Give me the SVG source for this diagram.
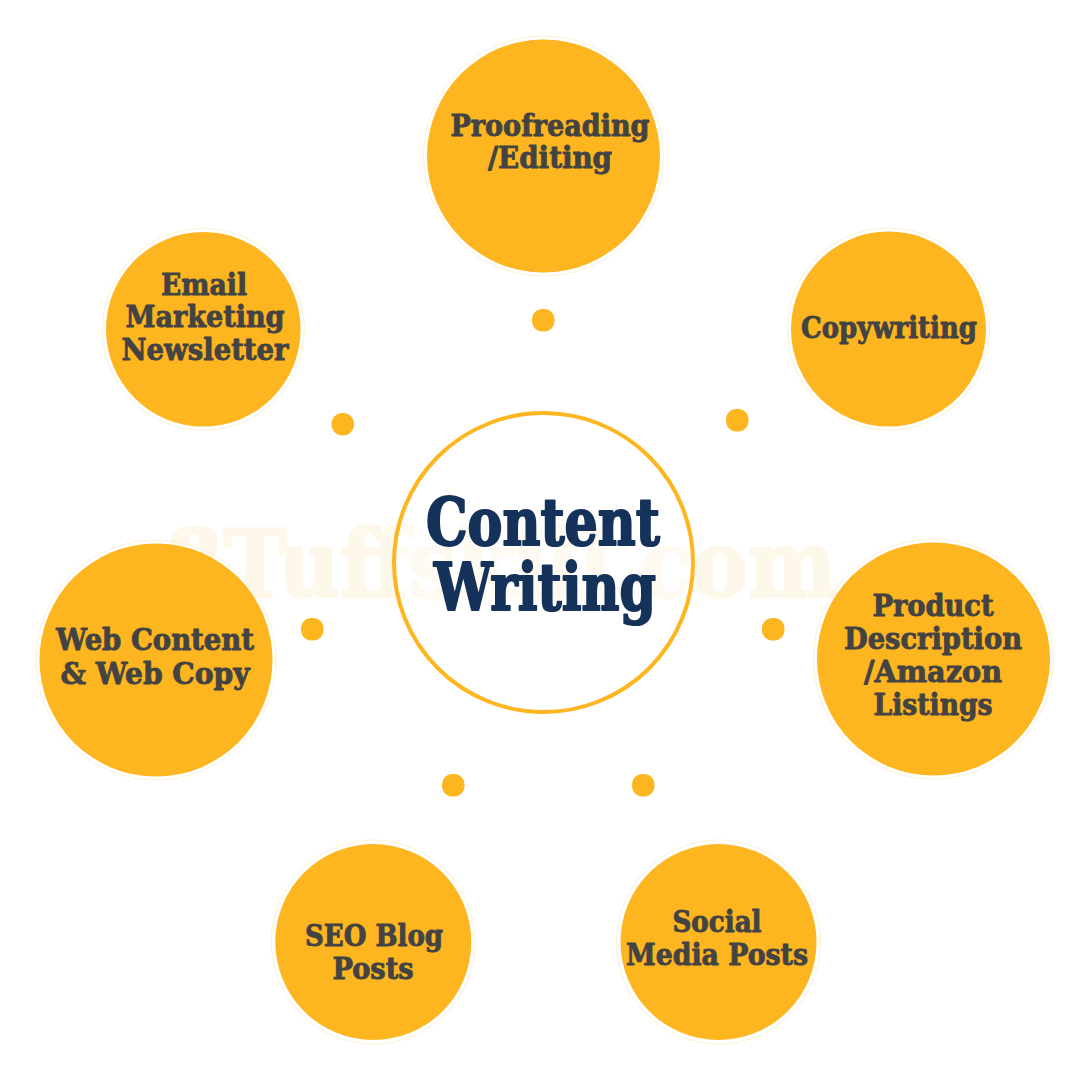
<svg xmlns="http://www.w3.org/2000/svg" width="1080" height="1080" viewBox="0 0 1080 1080">
<style>
.n{fill:#fdb520}
.h{fill:none;stroke:#fef0d2;stroke-width:1}
.l{font-family:"DejaVu Serif","Liberation Serif",serif;font-weight:700;font-size:30px;fill:#434343;text-anchor:middle;stroke:#434343;stroke-width:.9;stroke-linejoin:round}
.c{font-family:"DejaVu Serif","Liberation Serif",serif;font-weight:700;font-size:65px;fill:#14325a;text-anchor:middle;stroke:#14325a;stroke-width:2.2;stroke-linejoin:round}
.w{font-family:"DejaVu Serif","Liberation Serif",serif;font-weight:700;font-size:94px;fill:#fef8eb;text-anchor:middle;stroke:#fef8eb;stroke-width:3;stroke-linejoin:round}
.d{fill:#fdb520}
</style>
<rect width="1080" height="1080" fill="#fff"/>
<text class="w" x="501" y="597" textLength="672" lengthAdjust="spacingAndGlyphs">8Tuffskill.com</text>
<g id="connectors">
<rect class="d" x="532" y="309" width="22.500" height="22.500" rx="10"/>
<rect class="d" x="726" y="409" width="22.500" height="22.500" rx="10"/>
<rect class="d" x="762" y="618" width="22.500" height="22.500" rx="10"/>
<rect class="d" x="632" y="774" width="22.500" height="22.500" rx="10"/>
<rect class="d" x="442" y="774" width="22.500" height="22.500" rx="10"/>
<rect class="d" x="301" y="618" width="22.500" height="22.500" rx="10"/>
<rect class="d" x="331.500" y="413" width="22.500" height="22.500" rx="11"/>
</g>
<g id="center">
<circle cx="543.500" cy="562.500" r="149.500" fill="#fff" fill-opacity=".35" stroke="#fdb520" stroke-width="4"/>
<text class="c" x="543" y="545" textLength="234" lengthAdjust="spacingAndGlyphs">Content</text>
<text class="c" x="545" y="610" textLength="222" lengthAdjust="spacingAndGlyphs">Writing</text>
</g>
<g id="proofreading">
<circle class="h" cx="543.500" cy="156" r="120"/><circle class="n" cx="543.500" cy="156" r="116.500"/>
<text class="l" x="550" y="136" textLength="199" lengthAdjust="spacingAndGlyphs">Proofreading</text>
<text class="l" x="550" y="168" textLength="124" lengthAdjust="spacingAndGlyphs">/Editing</text>
</g>
<g id="copywriting">
<circle class="h" cx="888.500" cy="329" r="101"/><circle class="n" cx="888.500" cy="329" r="97.500"/>
<text class="l" x="889" y="338" textLength="176" lengthAdjust="spacingAndGlyphs">Copywriting</text>
</g>
<g id="product">
<circle class="h" cx="933.500" cy="659" r="120"/><circle class="n" cx="933.500" cy="659" r="116.500"/>
<text class="l" x="933" y="616" textLength="121" lengthAdjust="spacingAndGlyphs">Product</text>
<text class="l" x="933" y="649" textLength="178" lengthAdjust="spacingAndGlyphs">Description</text>
<text class="l" x="933" y="682" textLength="138" lengthAdjust="spacingAndGlyphs">/Amazon</text>
<text class="l" x="933" y="715" textLength="119" lengthAdjust="spacingAndGlyphs">Listings</text>
</g>
<g id="social">
<circle class="h" cx="718.500" cy="942" r="102"/><circle class="n" cx="718.500" cy="942" r="98"/>
<text class="l" x="717" y="932" textLength="89" lengthAdjust="spacingAndGlyphs">Social</text>
<text class="l" x="717" y="965" textLength="182" lengthAdjust="spacingAndGlyphs">Media Posts</text>
</g>
<g id="seo">
<circle class="h" cx="373.300" cy="942" r="102"/><circle class="n" cx="373.300" cy="942" r="98"/>
<text class="l" x="374" y="946" textLength="138" lengthAdjust="spacingAndGlyphs">SEO Blog</text>
<text class="l" x="373" y="979" textLength="81" lengthAdjust="spacingAndGlyphs">Posts</text>
</g>
<g id="web">
<circle class="h" cx="156" cy="660" r="120"/><circle class="n" cx="156" cy="660" r="116.500"/>
<text class="l" x="155" y="650" textLength="198" lengthAdjust="spacingAndGlyphs">Web Content</text>
<text class="l" x="155" y="684" textLength="189" lengthAdjust="spacingAndGlyphs">&amp; Web Copy</text>
</g>
<g id="email">
<circle class="h" cx="203.300" cy="329.300" r="101"/><circle class="n" cx="203.300" cy="329.300" r="97.300"/>
<text class="l" x="204" y="295" textLength="86" lengthAdjust="spacingAndGlyphs">Email</text>
<text class="l" x="205" y="327" textLength="159" lengthAdjust="spacingAndGlyphs">Marketing</text>
<text class="l" x="205" y="360" textLength="167" lengthAdjust="spacingAndGlyphs">Newsletter</text>
</g>
</svg>
